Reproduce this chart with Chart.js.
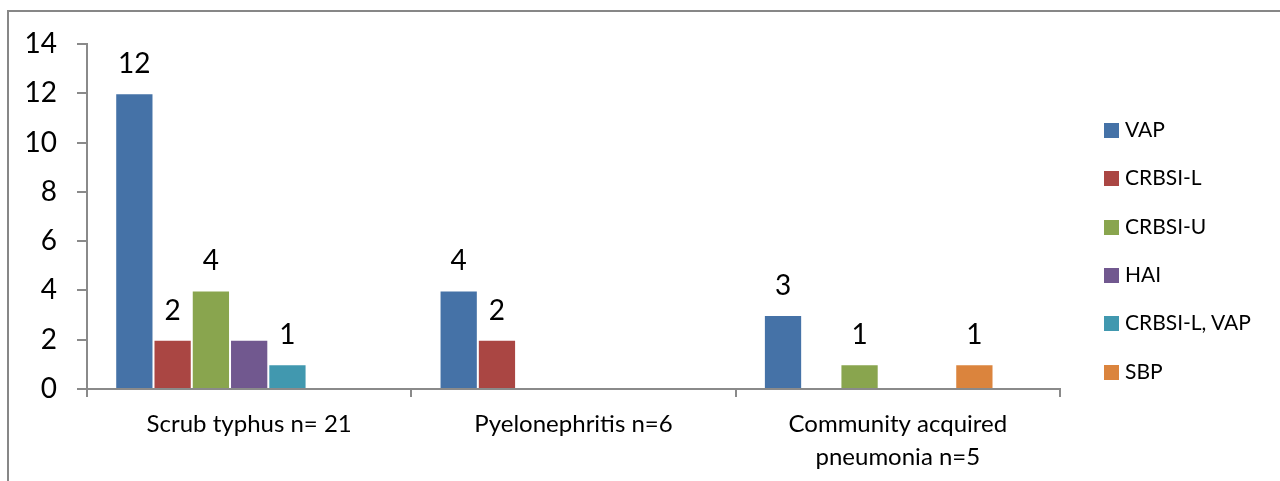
<!DOCTYPE html>
<html>
<head>
<meta charset="utf-8">
<script src="https://cdn.jsdelivr.net/npm/chart.js@4/dist/chart.umd.min.js"></script>
<style>
  html, body { margin: 0; padding: 0; background: #ffffff; }
  #wrap { position: relative; width: 1280px; height: 481px; overflow: hidden; }
  #frame { position: absolute; left: 7px; top: 10px; width: 1400px; height: 600px;
           border-left: 2px solid #878787; border-top: 2px solid #878787; }
  #chartBox { position: absolute; left: 0; top: 0; width: 1280px; height: 481px; }
  #legend { position: absolute; left: 1104px; top: 0; font-family: Lato, "Open Sans", sans-serif;
            font-size: 21px; color: #000; }
  .item { position: absolute; left: 0; white-space: nowrap; height: 24px; line-height: 24px; }
  .item span.box { display: inline-block; width: 15px; height: 15px; vertical-align: middle;
                   margin-right: 6px; position: relative; top: -1px; }
</style>
</head>
<body>
<div id="wrap">
  <div id="frame"></div>
  <div id="chartBox"><canvas id="chart"></canvas></div>
  <div id="legend"></div>
</div>
<script>
// Categories (x axis) and the number of cases per diagnosis
const categories = ['Scrub typhus n= 21', 'Pyelonephritis n=6', ['Community acquired', 'pneumonia n=5']];

const vap       = [12, 4, 3];
const crbsiL    = [2, 2, null];
const crbsiU    = [4, null, 1];
const hai       = [2, null, null];
const crbsiLVap = [1, null, null];
const sbp       = [null, null, 1];
const spareSlot = [null, null, null];   // empty series kept so the group spacing stays the same

const seriesNames  = ['VAP', 'CRBSI-L', 'CRBSI-U', 'HAI', 'CRBSI-L, VAP', 'SBP'];
const seriesColors = ['#4572A7', '#AA4643', '#89A54E', '#71588F', '#4198AF', '#DB843D'];
const seriesValues = [vap, crbsiL, crbsiU, hai, crbsiLVap, sbp];
// which series carry value labels above their bars (HAI is left unlabelled)
const seriesLabelled = [true, true, true, false, true, true];

const yMin = 0, yMax = 14, yStep = 2;

const FONT = 'Lato, "Open Sans", sans-serif';
const AXIS_GRAY = '#8a8a8a';

const datasets = seriesNames.map((name, i) => ({
  label: name,
  data: seriesValues[i],
  backgroundColor: seriesColors[i],
  borderColor: 'rgba(255,255,255,0.18)',
  borderWidth: 1,
  borderSkipped: 'start',
  showValue: seriesLabelled[i]
}));
datasets.push({ label: '', data: spareSlot, backgroundColor: 'rgba(0,0,0,0)', showValue: false });

// value labels above each bar
const valueLabels = {
  id: 'valueLabels',
  afterDatasetsDraw(chart) {
    const ctx = chart.ctx;
    ctx.save();
    ctx.font = '28px ' + FONT;
    ctx.fillStyle = '#000';
    ctx.textAlign = 'center';
    ctx.textBaseline = 'alphabetic';
    chart.data.datasets.forEach((ds, i) => {
      if (!ds.showValue) return;
      const meta = chart.getDatasetMeta(i);
      meta.data.forEach((bar, j) => {
        const v = ds.data[j];
        if (v === null || v === undefined || v === 0) return;
        ctx.fillText(String(v), bar.x, bar.y - 20);
      });
    });
    ctx.restore();
  }
};

new Chart(document.getElementById('chart'), {
  type: 'bar',
  data: { labels: categories, datasets: datasets },
  options: {
    responsive: true,
    maintainAspectRatio: false,
    animation: false,
    layout: { padding: { left: 0, top: 44, right: 220, bottom: 0 } },
    datasets: { bar: { categoryPercentage: 0.826, barPercentage: 1.0 } },
    plugins: {
      legend: { display: false },
      tooltip: { enabled: false }
    },
    scales: {
      x: {
        offset: true,
        afterFit(scale) { scale.height = 92; },
        border: { display: true, color: AXIS_GRAY, width: 2 },
        grid: { offset: true, drawOnChartArea: false, drawTicks: true, tickLength: 8,
                color: AXIS_GRAY, lineWidth: 2 },
        ticks: { color: '#000', font: { family: FONT, size: 24, lineHeight: 1.4 },
                 padding: 10, maxRotation: 0, autoSkip: false }
      },
      y: {
        min: yMin, max: yMax,
        afterFit(scale) { scale.width = 87; },
        border: { display: true, color: AXIS_GRAY, width: 2 },
        grid: { drawOnChartArea: false, drawTicks: true, tickLength: 10,
                color: AXIS_GRAY, lineWidth: 2 },
        ticks: { stepSize: yStep, color: '#000', font: { family: FONT, size: 28 }, padding: 20 }
      }
    }
  },
  plugins: [valueLabels]
});

// legend
const legendRowCenters = [129, 177, 226, 274, 322, 371];
const legend = document.getElementById('legend');
seriesNames.forEach((name, i) => {
  const row = document.createElement('div');
  row.className = 'item';
  row.style.top = (legendRowCenters[i] - 12) + 'px';
  const box = document.createElement('span');
  box.className = 'box';
  box.style.background = seriesColors[i];
  row.appendChild(box);
  row.appendChild(document.createTextNode(name));
  legend.appendChild(row);
});
</script>
</body>
</html>
